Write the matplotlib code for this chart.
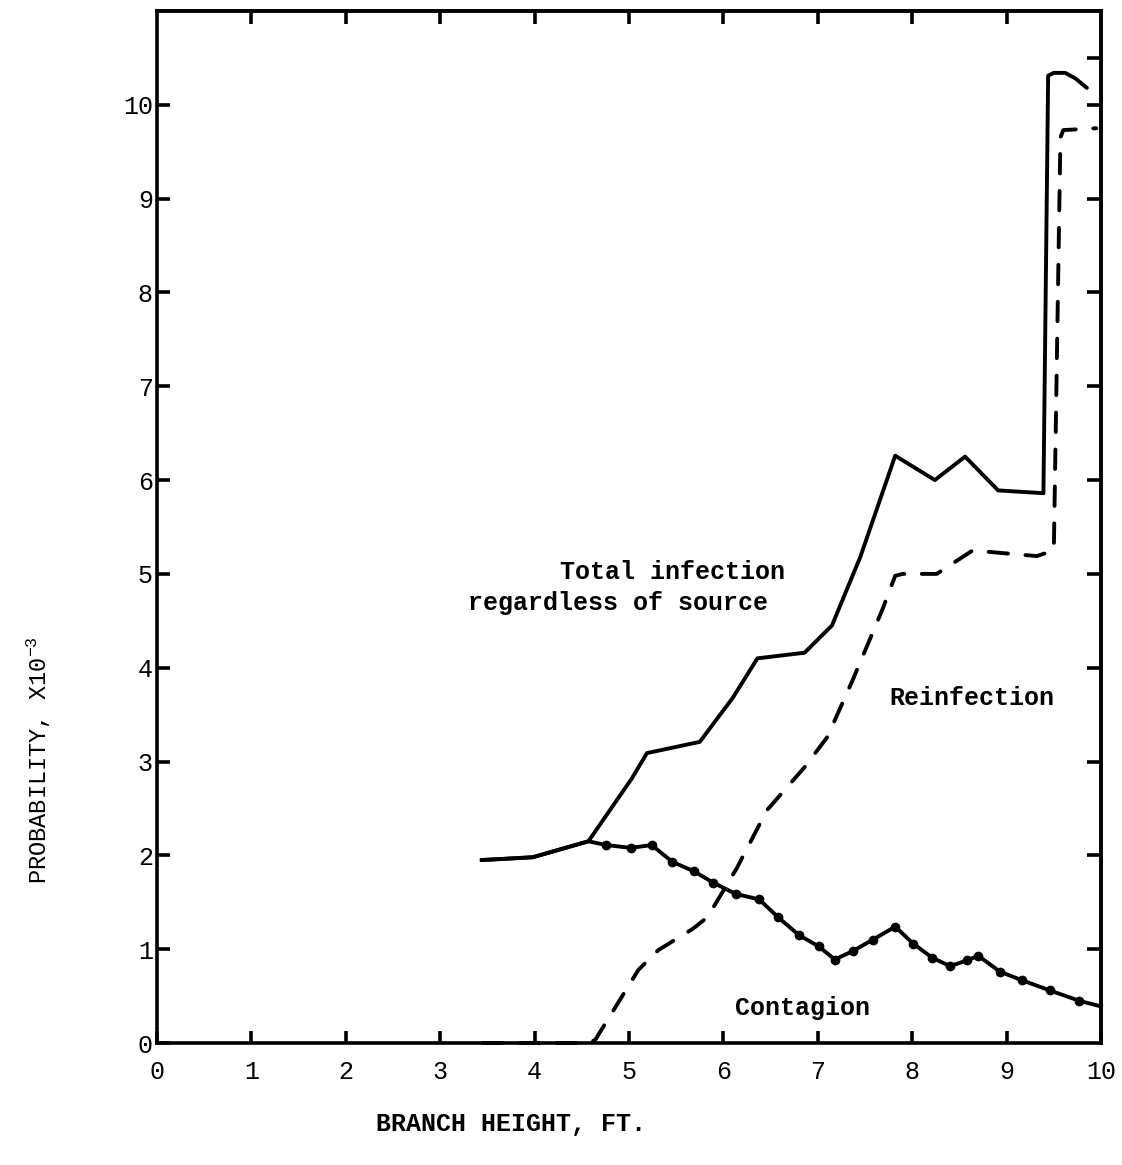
import matplotlib
matplotlib.use("Agg")
import matplotlib.pyplot as plt

plt.rcParams['font.family'] = ['Liberation Mono', 'DejaVu Sans Mono']
plt.rcParams['mathtext.fontset'] = 'custom'
plt.rcParams['mathtext.rm'] = 'Liberation Mono'
plt.rcParams['mathtext.default'] = 'rm'

# Total infection regardless of source
total_x = [3.44, 3.98, 4.57, 5.03, 5.19, 5.75, 6.10, 6.36, 6.86, 7.15, 7.45,
           7.82, 8.24, 8.56, 8.91, 9.39, 9.44, 9.50, 9.62, 9.73, 9.85]
total_y = [1.95, 1.98, 2.15, 2.82, 3.09, 3.21, 3.68, 4.10, 4.16, 4.45, 5.18,
           6.26, 6.00, 6.25, 5.89, 5.86, 10.31, 10.34, 10.34, 10.28, 10.18]

# Contagion
cont_x = [3.44, 3.98, 4.57, 4.76, 5.02, 5.24, 5.46, 5.69, 5.89, 6.13, 6.38,
          6.58, 6.80, 7.01, 7.18, 7.37, 7.58, 7.82, 8.01, 8.21, 8.40, 8.58,
          8.70, 8.93, 9.16, 9.46, 9.77, 10.0]
cont_y = [1.95, 1.98, 2.15, 2.11, 2.08, 2.11, 1.93, 1.83, 1.71, 1.59, 1.53,
          1.34, 1.15, 1.03, 0.89, 0.98, 1.10, 1.24, 1.06, 0.91, 0.82, 0.88,
          0.93, 0.76, 0.67, 0.56, 0.45, 0.39]

# Reinfection
reinf_x = [3.45, 4.55, 4.64, 5.10, 5.31, 5.68, 5.83, 6.14, 6.46, 6.86, 7.10,
           7.37, 7.68, 7.82, 7.90, 8.26, 8.64, 9.32, 9.50, 9.57, 9.60, 9.95]
reinf_y = [0.0, 0.0, 0.03, 0.78, 0.99, 1.22, 1.34, 1.86, 2.48, 2.94, 3.26,
           3.87, 4.61, 4.98, 5.00, 5.00, 5.25, 5.19, 5.25, 9.65, 9.73, 9.75]

x_ticks = list(range(0, 11))
y_ticks = list(range(0, 11))

fig = plt.figure(figsize=(11.22, 11.65), dpi=100)
ax = fig.add_axes([0.1399, 0.1047, 0.8414, 0.8859])

lw = 2.8
ax.plot(total_x, total_y, color='black', lw=lw, solid_joinstyle='round',
        solid_capstyle='round', clip_on=False)
ax.plot(cont_x, cont_y, color='black', lw=lw, solid_joinstyle='round',
        marker='o', markersize=6, markevery=list(range(3, len(cont_x) - 1)),
        clip_on=False)
ax.plot(reinf_x, reinf_y, color='black', lw=lw, linestyle=(0, (5, 4.5)),
        dash_capstyle='round', clip_on=False)

ax.set_xlim(0, 10)
ax.set_ylim(0, 11)

for s in ax.spines.values():
    s.set_linewidth(2.6)

ax.set_xticks(x_ticks)
ax.set_yticks(y_ticks)
ax.set_xticklabels([str(v) for v in x_ticks])
ax.set_yticklabels([str(v) for v in y_ticks])
ax.tick_params(axis='both', direction='in', length=9, width=2.6,
               labelsize=18)
ax.tick_params(axis='x', pad=12)
ax.tick_params(axis='y', pad=3)

# inner ticks on the top and right edges
top = ax.secondary_xaxis('top')
top.set_xticks(list(range(1, 10)))
top.tick_params(direction='in', length=9, width=2.6, labeltop=False)
top.spines['top'].set_linewidth(2.6)
right = ax.secondary_yaxis('right')
right.set_yticks(list(range(1, 11)) + [10.5])
right.tick_params(direction='in', length=10, width=2.6, labelright=False)
right.spines['right'].set_linewidth(2.6)

txt = dict(fontsize=18, fontweight='bold', color='black', va='center', ha='left')
ax.text(4.27, 5.02, 'Total infection', **txt)
ax.text(3.29, 4.69, 'regardless of source', **txt)
ax.text(7.76, 3.68, 'Reinfection', **txt)
ax.text(6.12, 0.37, 'Contagion', **txt)

fig.text(511 / 1122, 1 - 1124 / 1165, 'BRANCH HEIGHT, FT.', fontsize=18,
         fontweight='bold', ha='center', va='center')
fig.text(39 / 1122, 1 - 760 / 1165, r'PROBABILITY, X10$^{-3}$', fontsize=17,
         rotation=90, ha='center', va='center')

fig.savefig('out.png', dpi=100)
